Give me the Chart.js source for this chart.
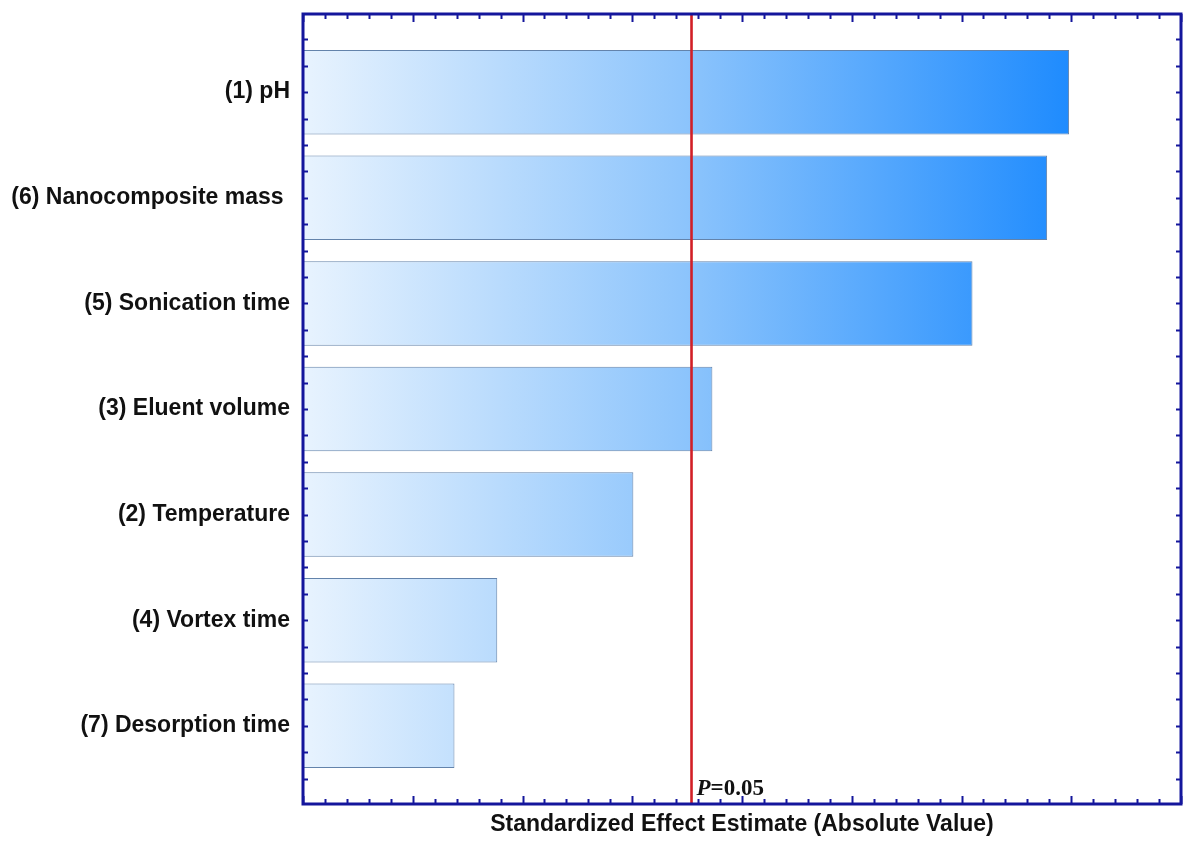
<!DOCTYPE html>
<html>
<head>
<meta charset="utf-8">
<script src="https://cdn.jsdelivr.net/npm/chart.js@4"></script>
<style>
  html, body { margin: 0; padding: 0; background: #ffffff; }
  #wrap { width: 1184px; height: 847px; }
</style>
</head>
<body>
<div id="wrap"><canvas id="pareto" width="1184" height="847"></canvas></div>
<script>
// Pareto chart of standardized effects
const factors = [
  '(1) pH',
  '(6) Nanocomposite mass ',
  '(5) Sonication time',
  '(3) Eluent volume',
  '(2) Temperature',
  '(4) Vortex time',
  '(7) Desorption time'
];
const effects = [6.98, 6.78, 6.10, 3.73, 3.01, 1.77, 1.38];
const pCritical = [3.54];
const pLabel = ['P', '=0.05'];
const axisTitle = 'Standardized Effect Estimate (Absolute Value)';

const FRAME = '#14169c';
const SANS = '"Liberation Sans", Arial, sans-serif';
const SERIF = '"Liberation Serif", "Times New Roman", serif';

const points = effects.map((v, i) => ({ x: v, y: i }));

// Frame, inward tick marks, critical-value line and its label
const decorations = {
  id: 'decorations',
  afterDatasetsDraw(chart) {
    const { ctx, chartArea: a, scales: { x, y } } = chart;
    ctx.save();

    // critical t line
    const px = x.getPixelForValue(pCritical[0]);
    ctx.strokeStyle = '#d21f26';
    ctx.lineWidth = 2.6;
    ctx.beginPath();
    ctx.moveTo(px, a.top);
    ctx.lineTo(px, a.bottom);
    ctx.stroke();

    // label
    ctx.fillStyle = '#111111';
    ctx.textBaseline = 'alphabetic';
    ctx.textAlign = 'left';
    ctx.font = 'italic bold 23px ' + SERIF;
    const lx = px + 5;
    const ly = a.bottom - 9;
    ctx.fillText(pLabel[0], lx, ly);
    const w = ctx.measureText(pLabel[0]).width;
    ctx.font = 'bold 23px ' + SERIF;
    ctx.fillText(pLabel[1], lx + w, ly);

    // tick marks
    ctx.strokeStyle = FRAME;
    ctx.lineWidth = 2;
    ctx.beginPath();
    for (let k = 0; k <= 40; k++) {
      const v = k * 0.2;
      const tx = Math.round(x.getPixelForValue(v)) + 0.5;
      const len = (k % 5 === 0) ? 8 : 5;
      ctx.moveTo(tx, a.bottom); ctx.lineTo(tx, a.bottom - len);
      ctx.moveTo(tx, a.top); ctx.lineTo(tx, a.top + len);
    }
    for (let k = -2; k <= 26; k++) {
      const v = k * 0.25;
      const ty = Math.round(y.getPixelForValue(v)) + 0.5;
      if (ty < a.top + 2 || ty > a.bottom - 2) continue;
      ctx.moveTo(a.left, ty); ctx.lineTo(a.left + 5, ty);
      ctx.moveTo(a.right, ty); ctx.lineTo(a.right - 5, ty);
    }
    ctx.stroke();

    // frame
    ctx.lineWidth = 3;
    ctx.strokeRect(a.left, a.top, a.right - a.left, a.bottom - a.top);
    ctx.restore();
  }
};

function barFill(context) {
  const chart = context.chart;
  const { ctx, chartArea, scales } = chart;
  if (!chartArea) return '#8cc4fc';
  const x0 = scales.x.getPixelForValue(0);
  const x1 = scales.x.getPixelForValue(7);
  const g = ctx.createLinearGradient(x0, 0, x1, 0);
  g.addColorStop(0, '#e8f3fe');
  g.addColorStop(0.5, '#8cc4fc');
  g.addColorStop(1, '#1e8bfe');
  return g;
}

new Chart(document.getElementById('pareto'), {
  type: 'bar',
  data: {
    datasets: [{
      data: points,
      backgroundColor: barFill,
      borderColor: 'rgba(60, 100, 150, 0.8)',
      borderWidth: 1,
      borderSkipped: false,
      categoryPercentage: 0.8,
      barPercentage: 1.0
    }]
  },
  options: {
    indexAxis: 'y',
    responsive: false,
    animation: false,
    layout: { padding: { top: 14, right: 3, left: 0, bottom: 0 } },
    plugins: {
      legend: { display: false },
      tooltip: { enabled: false }
    },
    scales: {
      x: {
        type: 'linear',
        bounds: 'data',
        offset: false,
        min: 0,
        max: 8,
        grid: { display: false, drawTicks: false },
        border: { display: false },
        ticks: { display: false },
        title: {
          display: true,
          text: axisTitle,
          color: '#111111',
          font: { family: SANS, size: 23, weight: 'bold' },
          padding: { top: 6, bottom: 9 }
        },
        afterFit(scale) {
          scale.height = 43;
          scale.paddingLeft = 0;
          scale.paddingRight = 0;
        }
      },
      y: {
        type: 'linear',
        bounds: 'data',
        offset: false,
        reverse: true,
        min: -0.74,
        max: 6.74,
        grid: { display: false, drawTicks: false, offset: false },
        border: { display: false },
        ticks: {
          autoSkip: false,
          padding: 13,
          color: '#111111',
          font: { family: SANS, size: 23, weight: 'bold' },
          callback(v) {
            const i = Math.round(v);
            return (Math.abs(v - i) < 1e-6 && factors[i] !== undefined) ? factors[i] : '';
          }
        },
        afterBuildTicks(scale) {
          scale.ticks = factors.map((_, i) => ({ value: i }));
        },
        afterFit(scale) {
          scale.width = 303;
          scale.paddingTop = 0;
          scale.paddingBottom = 0;
        }
      }
    }
  },
  plugins: [decorations]
});
</script>
</body>
</html>
